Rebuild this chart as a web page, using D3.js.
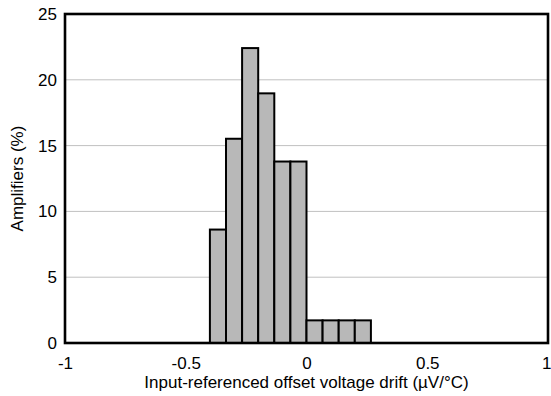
<!DOCTYPE html>
<html>
<head>
<meta charset="utf-8">
<script src="https://cdn.jsdelivr.net/npm/d3@7"></script>
<style>
  html, body { margin: 0; padding: 0; background: #fff; }
  svg { display: block; font-family: "Liberation Sans", Arial, sans-serif; }
</style>
</head>
<body>
<svg id="chart" width="551" height="396"></svg>
<script>
// Histogram bins: left edge of each bin (µV/°C), bin width 1/15
const binStarts = [-0.4, -1/3, -4/15, -0.2, -2/15, -1/15, 0, 1/15, 2/15, 0.2];
const binWidth = 1 / 15;
const percentages = [8.62, 15.52, 22.41, 18.97, 13.79, 13.79, 1.72, 1.72, 1.72, 1.72];
const xTicks = [-1, -0.5, 0, 0.5, 1];
const xTickLabels = ["-1", "-0.5", "0", "0.5", "1"];
const yTicks = [0, 5, 10, 15, 20, 25];

const svg = d3.select("#chart");
const m = { left: 65, right: 3, top: 14, bottom: 53 };
const W = 551, H = 396;
const FS = 17;

const x = d3.scaleLinear().domain([-1, 1]).range([m.left, W - m.right]);
const y = d3.scaleLinear().domain([0, 25]).range([H - m.bottom, m.top]);

// Horizontal grid lines
svg.append("g")
  .selectAll("line")
  .data(yTicks.filter(t => t > 0 && t < 25))
  .join("line")
  .attr("x1", x(-1)).attr("x2", x(1))
  .attr("y1", d => y(d)).attr("y2", d => y(d))
  .attr("stroke", "#c0c0c0").attr("stroke-width", 1);

// Bars
const bins = binStarts.map((s, i) => ({ x0: s, x1: s + binWidth, v: percentages[i] }));
svg.append("g")
  .selectAll("rect")
  .data(bins)
  .join("rect")
  .attr("x", d => x(d.x0))
  .attr("y", d => y(d.v))
  .attr("width", d => x(d.x1) - x(d.x0))
  .attr("height", d => y(0) - y(d.v))
  .attr("fill", "#b8b8b8")
  .attr("stroke", "#000")
  .attr("stroke-width", 2);

// Plot frame
svg.append("rect")
  .attr("x", x(-1)).attr("y", y(25))
  .attr("width", x(1) - x(-1)).attr("height", y(0) - y(25))
  .attr("fill", "none").attr("stroke", "#000").attr("stroke-width", 2.6);

// Y axis
const yAxis = svg.append("g")
  .attr("transform", `translate(${x(-1)},0)`)
  .call(d3.axisLeft(y).tickValues(yTicks).tickSize(0).tickPadding(8).tickFormat(d3.format("d")));
yAxis.select(".domain").remove();
yAxis.selectAll("text").attr("font-size", FS).attr("fill", "#000")
  .attr("font-family", "Liberation Sans, Arial, sans-serif");

// X axis
const xAxis = svg.append("g")
  .attr("transform", `translate(0,${y(0)})`)
  .call(d3.axisBottom(x).tickValues(xTicks).tickSize(0).tickPadding(14)
    .tickFormat((d, i) => xTickLabels[i]));
xAxis.select(".domain").remove();
xAxis.selectAll("text").attr("font-size", FS).attr("fill", "#000")
  .attr("font-family", "Liberation Sans, Arial, sans-serif");
// keep the last label inside the canvas
xAxis.selectAll(".tick").filter(d => d === 1).select("text")
  .attr("text-anchor", "end").attr("x", 3);

// Axis titles
svg.append("text")
  .attr("x", (x(-1) + x(1)) / 2).attr("y", 388)
  .attr("text-anchor", "middle").attr("font-size", FS)
  .text("Input-referenced offset voltage drift (µV/°C)");

svg.append("text")
  .attr("transform", `translate(22.5,${(y(0) + y(25)) / 2}) rotate(-90)`)
  .attr("text-anchor", "middle").attr("font-size", FS)
  .text("Amplifiers (%)");
</script>
</body>
</html>
